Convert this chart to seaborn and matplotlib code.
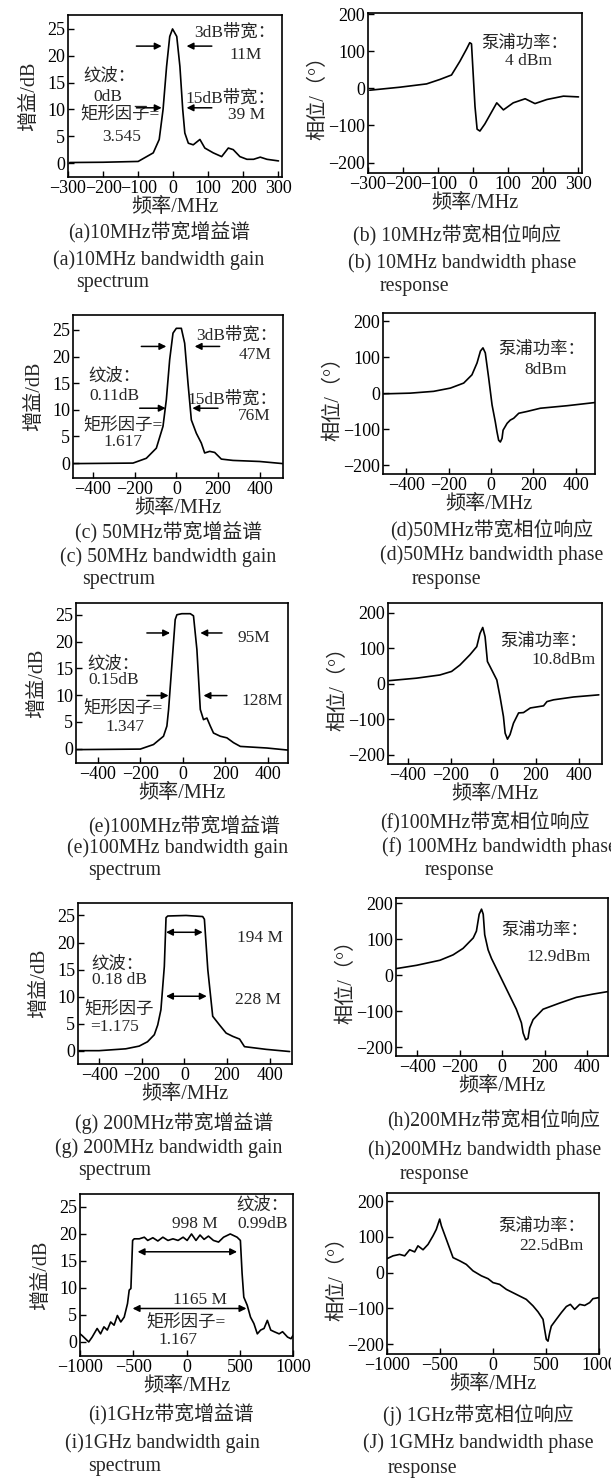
import matplotlib
matplotlib.use("Agg")
import matplotlib.pyplot as plt
import seaborn as sns

W, H = 611, 1479

# ---- data (MHz, dB / degree) ----
a_freq = [-295, -200, -100, -57, -40, -29, -19, -10, -2, 10, 19, 27, 33, 43, 57, 76, 90, 114, 138, 157, 171, 190, 210, 229, 248, 267, 300]
a_gain = [0.1, 0.15, 0.3, 1.9, 4.4, 10, 18, 23.6, 25, 23.6, 18, 10, 5.6, 3.7, 3.4, 4.4, 2.8, 1.9, 1.2, 2.8, 2.5, 1.2, 0.7, 0.7, 1.1, 0.7, 0.4]

b_freq = [-295, -210, -133, -95, -62, -38, -19, -10, -5, 5, 11, 19, 33, 67, 86, 114, 148, 176, 210, 257, 300]
b_phase = [-5, 3, 12, 24, 36, 73, 106, 123, 120, -49, -110, -115, -96, -39, -58, -39, -28, -41, -30, -21, -23]

c_freq = [-500, -208, -144, -96, -64, -48, -32, -16, 0, 24, 40, 56, 72, 96, 120, 136, 160, 184, 216, 272, 400, 512]
c_gain = [-0.1, 0, 0.9, 2.8, 6.9, 11.9, 19.4, 24.4, 25.3, 25.3, 22.5, 15, 8.1, 5.6, 3.75, 1.9, 2.2, 2.0, 0.75, 0.5, 0.3, -0.1]

d_freq = [-507, -381, -271, -192, -129, -90, -66, -50, -38, -27, -11, 5, 20, 28, 36, 44, 52, 57, 76, 91, 107, 131, 170, 233, 359, 493]
d_phase = [-2, 0, 5, 14, 28, 51, 84, 117, 126, 112, 42, -33, -79, -107, -131, -136, -126, -103, -84, -75, -70, -56, -51, -42, -35, -26]

e_freq = [-499, -200, -138, -91, -75, -67, -52, -36, -28, -5, 35, 50, 66, 82, 97, 113, 129, 144, 176, 207, 238, 270, 395, 497]
e_gain = [-0.2, -0.1, 0.75, 2.3, 4.2, 7.3, 15.4, 24.1, 25, 25.2, 25.2, 24.8, 18.5, 7.3, 5.4, 5.7, 4.2, 2.9, 2.3, 2.0, 1.1, 0.4, 0.1, -0.3]

f_freq = [-489, -361, -251, -196, -157, -110, -78, -63, -50, -39, -28, -16, 16, 31, 47, 55, 66, 78, 94, 118, 141, 173, 235, 251, 282, 376, 494]
f_phase = [9, 16, 25, 35, 53, 82, 105, 142, 159, 133, 63, 49, 11, -36, -92, -139, -156, -143, -111, -82, -81, -68, -62, -50, -45, -37, -31]

g_freq = [-494, -400, -275, -212, -173, -141, -125, -110, -94, -86, -78, 8, 86, 94, 110, 133, 165, 196, 227, 259, 282, 384, 494]
g_gain = [0.06, 0.06, 0.4, 0.9, 1.7, 3.0, 4.8, 7.6, 15.6, 24.6, 24.9, 25.0, 24.8, 24.3, 15.0, 6.4, 4.8, 3.3, 2.7, 2.2, 0.8, 0.3, -0.1]

h_freq = [-497, -403, -293, -231, -184, -136, -121, -108, -97, -89, -82, -66, -50, -11, 28, 67, 91, 99, 111, 122, 130, 146, 193, 271, 350, 428, 499]
h_phase = [19, 28, 42, 57, 75, 104, 123, 170, 184, 170, 113, 71, 47, 0, -47, -94, -132, -160, -179, -175, -146, -123, -94, -77, -61, -52, -45]

i_freq = [-1000, -981, -918, -886, -839, -807, -775, -744, -712, -680, -649, -617, -585, -554, -538, -522, -506, -491, -443,
          -396, -364, -316, -269, -222, -174, -127, -79, -32, 6, 47, 89, 127, 165, 206, 253, 301, 348, 411, 475, 506,
          522, 538, 570, 601, 633, 665, 696, 728, 759, 791, 823, 870, 902, 949, 981, 1000]
i_gain = [1.5, 1.2, 0.0, 0.9, 2.5, 1.5, 2.8, 2.2, 3.7, 3.1, 4.9, 3.7, 4.6, 7.1, 9.6, 9.9, 18.8, 19.1, 19.1,
          19.4, 18.8, 19.3, 18.7, 19.4, 18.8, 19.1, 18.8, 19.4, 18.8, 20.0, 18.8, 19.8, 19.0, 19.6, 18.8, 18.5, 19.4, 20.0, 19.4, 18.8,
          12.7, 8.3, 6.8, 4.6, 3.4, 1.5, 2.2, 2.5, 4.0, 2.2, 1.9, 1.5, 1.9, 0.9, 0.6, 1.2]

j_freq = [-1000, -943, -881, -833, -786, -739, -708, -660, -613, -566, -535, -503, -487, -440, -377, -314, -252, -189, -110,
          -47, 0, 63, 126, 220, 314, 377, 425, 472, 487, 503, 519, 535, 550, 597, 645, 692, 730, 770, 818, 865, 912, 943, 1000]
j_phase = [39, 47, 51, 47, 64, 58, 75, 64, 79, 103, 121, 150, 131, 93, 42, 33, 23, 5, -9,
           -17, -28, -33, -47, -61, -75, -93, -110, -131, -159, -187, -192, -168, -150, -131, -112, -95, -89, -103, -89, -92, -84, -73, -70]

gain_ticks = [0, 5, 10, 15, 20, 25]
phase_ticks = [-200, -100, 0, 100, 200]
f300_ticks = [-300, -200, -100, 0, 100, 200, 300]
f400_ticks = [-400, -200, 0, 200, 400]
f1000_ticks = [-1000, -500, 0, 500, 1000]

sns.set_style("ticks")
plt.rcParams['font.family'] = ['Liberation Serif', 'Noto Sans CJK SC']
plt.rcParams['axes.unicode_minus'] = True
TFS = 13      # tick labels
LFS = 14.5    # axis labels
CFS = 14.3    # captions
AFS = 12.5    # in-plot notes

fig = plt.figure(figsize=(W / 100, H / 100), dpi=100)


def make_ax(box, xs, ys, xlim, ylim, xticks, yticks, ylabel, ypad):
    l, t, r, b = box
    ax = fig.add_axes([l / W, 1 - b / H, (r - l) / W, (b - t) / H])
    sns.lineplot(x=xs, y=ys, ax=ax, color='black', lw=1.2, sort=False, estimator=None)
    ax.set_xlim(*xlim)
    ax.set_ylim(*ylim)
    ax.set_xticks(xticks)
    ax.set_yticks(yticks)
    ax.tick_params(direction='in', length=4.5, width=1.0, labelsize=TFS, pad=2, colors='black')
    for s in ax.spines.values():
        s.set_linewidth(1.2)
        s.set_color('black')
    ax.set_xlabel('频率/MHz', fontsize=LFS, labelpad=1)
    ax.set_ylabel(ylabel, fontsize=LFS, labelpad=ypad)
    return ax


def texts(ax, items, fs=AFS):
    for s, x, y in items:
        ax.text(x, y, s, ha='center', va='center', fontsize=fs)


def arrow(ax, x0, x1, y, style='-|>'):
    ax.annotate('', xy=(x1, y), xytext=(x0, y),
                arrowprops=dict(arrowstyle=style, color='black', lw=1.1, mutation_scale=10,
                                shrinkA=0, shrinkB=0))


GL = '增益/dB'
PL = '相位/（°）'

# (a)
ax = make_ax((68, 15, 282, 177), a_freq, a_gain, (-300, 310), (-2.6, 27.6), f300_ticks, gain_ticks, GL, 6)
texts(ax, [('3dB带宽：', 174, 24.3), ('11M', 205, 20.2), ('纹波：', -181, 16.2), ('0dB', -186, 12.4),
           ('15dB带宽：', 164, 12.1), ('39 M', 210, 9), ('矩形因子=', -152, 8.9), ('3.545', -148, 4.8)])
for y in (21.8, 10.3):
    arrow(ax, -105, -33, y)
    arrow(ax, 110, 38, y)

# (b)
ax = make_ax((368, 13, 582, 173), b_freq, b_phase, (-300, 310), (-228, 203), f300_ticks, phase_ticks, PL, 0)
texts(ax, [('泵浦功率：', 148, 120), ('4 dBm', 157, 73)])

# (c)
ax = make_ax((73, 315, 283, 478), c_freq, c_gain, (-496, 512), (-2.8, 27.8), f400_ticks, gain_ticks, GL, 6)
texts(ax, [('3dB带宽：', 288, 24), ('47M', 376, 20.3), ('纹波：', -296, 16.25), ('0.11dB', -296, 12.5),
           ('15dB带宽：', 267, 11.9), ('76M', 376, 8.75), ('矩形因子=', -256, 6.9), ('1.617', -256, 4.0)])
arrow(ax, -168, -48, 21.9)
arrow(ax, 208, 88, 21.9)
arrow(ax, -176, -51, 10.3)
arrow(ax, 200, 77, 10.3)

# (d)
ax = make_ax((383, 313, 595, 474), d_freq, d_phase, (-510, 491), (-225, 223), f400_ticks, phase_ticks, PL, 0)
texts(ax, [('泵浦功率：', 241, 121.5), ('8dBm', 257, 65)])

# (e)
ax = make_ax((76, 603, 288, 763), e_freq, e_gain, (-502, 494), (-2.7, 27.2), f400_ticks, gain_ticks, GL, 6)
texts(ax, [('95M', 333, 20.6), ('128M', 372, 8.8), ('纹波：', -326, 15.7), ('0.15dB', -326, 12.9),
           ('矩形因子=', -279, 7.4), ('1.347', -271, 4.0)])
arrow(ax, -169, -60, 21.6)
arrow(ax, 184, 82, 21.6)
arrow(ax, -169, -67, 9.9)
arrow(ax, 207, 97, 9.9)

# (f)
ax = make_ax((388, 603, 602, 764), f_freq, f_phase, (-494, 509), (-226, 228), f400_ticks, phase_ticks, PL, 0)
texts(ax, [('泵浦功率：', 238, 119), ('10.8dBm', 329, 67.5)])

# (g)
ax = make_ax((78, 903, 292, 1064), g_freq, g_gain, (-499, 505), (-2.4, 27.3), f400_ticks, gain_ticks, GL, 6)
texts(ax, [('194 M', 353, 20.9), ('228 M', 345, 9.4), ('纹波：', -314, 15.9), ('0.18 dB', -306, 13.1),
           ('矩形因子', -306, 7.6), ('=1.175', -329, 4.5)])
arrow(ax, -86, 86, 21.9, '<|-|>')
arrow(ax, -86, 105, 10.1, '<|-|>')

# (h)
ax = make_ax((396, 898, 608, 1056), h_freq, h_phase, (-500, 499), (-224, 215), f400_ticks, phase_ticks, PL, 0)
texts(ax, [('泵浦功率：', 201, 123), ('12.9dBm', 264, 52)])

# (i)
ax = make_ax((80, 1194, 293, 1356), i_freq, i_gain, (-1000, 1000), (-2.6, 27.4), f1000_ticks, gain_ticks, GL, 6)
texts(ax, [('998 M', 79, 21.9), ('纹波：', 712, 25.3), ('0.99dB', 712, 21.9), ('1165 M', 127, 7.7),
           ('矩形因子=', 0, 3.4), ('1.167', -79, 0.3)])
arrow(ax, -459, 475, 16.7, '<|-|>')
arrow(ax, -506, 563, 6.2, '<|-|>')

# (j)
ax = make_ax((387, 1193, 599, 1354), j_freq, j_phase, (-1000, 1000), (-228, 223), f1000_ticks, phase_ticks, PL, 0)
texts(ax, [('泵浦功率：', 456, 129), ('22.5dBm', 550, 75)])

# captions (pixel positions)
captions = [
    ('(a)10MHz带宽增益谱', 68, 233), ('(a)10MHz bandwidth gain', 53, 260), ('spectrum', 76, 283),
    ('(b) 10MHz带宽相位响应', 353, 235), ('(b) 10MHz bandwidth phase', 348, 263), ('response', 380, 287),
    ('(c) 50MHz带宽增益谱', 75, 533), ('(c) 50MHz bandwidth gain', 60, 557), ('spectrum', 82, 580),
    ('(d)50MHz带宽相位响应', 390, 530), ('(d)50MHz bandwidth phase', 380, 555), ('response', 412, 580),
    ('(e)100MHz带宽增益谱', 88, 827), ('(e)100MHz bandwidth gain', 67, 848), ('spectrum', 88, 870),
    ('(f)100MHz带宽相位响应', 380, 822), ('(f) 100MHz bandwidth phase', 382, 847), ('response', 425, 870),
    ('(g) 200MHz带宽增益谱', 75, 1123), ('(g) 200MHz bandwidth gain', 55, 1148), ('spectrum', 78, 1170),
    ('(h)200MHz带宽相位响应', 387, 1120), ('(h)200MHz bandwidth phase', 368, 1150), ('response', 400, 1175),
    ('(i)1GHz带宽增益谱', 88, 1415), ('(i)1GHz bandwidth gain', 65, 1443), ('spectrum', 88, 1467),
    ('(j) 1GHz带宽相位响应', 383, 1415), ('(J) 1GMHz bandwidth phase', 363, 1443), ('response', 388, 1468),
]
for s, x, y in captions:
    fig.text(x / W, 1 - y / H, s, ha='left', va='center', fontsize=CFS)

fig.savefig('out.png', dpi=100, facecolor='white')
